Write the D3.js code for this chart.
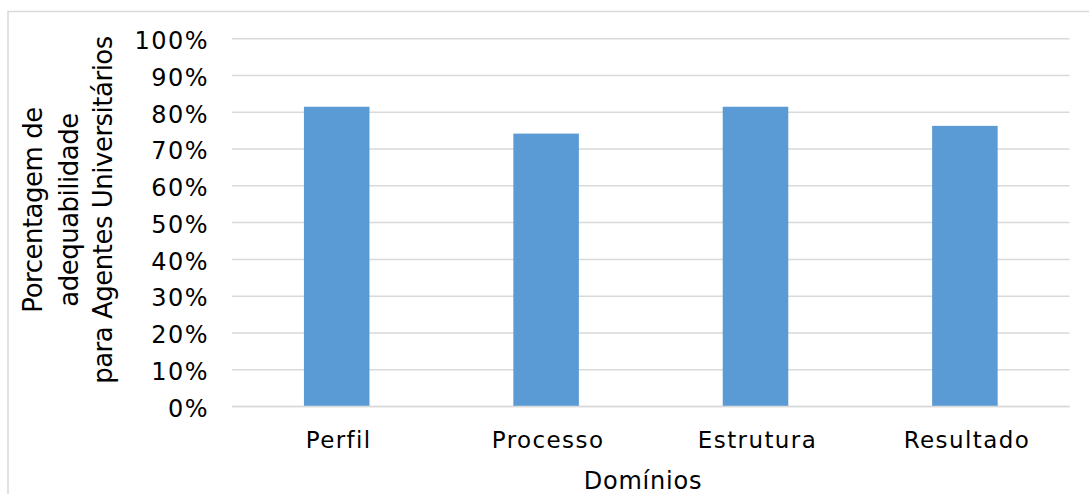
<!DOCTYPE html>
<html>
<head>
<meta charset="utf-8">
<script src="https://cdn.jsdelivr.net/npm/d3@7"></script>
<style>
  html, body { margin: 0; padding: 0; background: #fff; overflow: hidden; }
  svg { display: block; font-family: "DejaVu Sans", Verdana, sans-serif; }
</style>
</head>
<body>
<svg id="chart" width="1089" height="494"></svg>
<script>
// Adequacy percentages by domain
const categories = ["Perfil", "Processo", "Estrutura", "Resultado"];
const values = [0.815, 0.742, 0.815, 0.763];
const yTicks = [0, 0.1, 0.2, 0.3, 0.4, 0.5, 0.6, 0.7, 0.8, 0.9, 1.0];
const yTitleLines = ["Porcentagem de", "adequabilidade", "para Agentes Universitários"];
const xTitle = "Domínios";

const svg = d3.select("#chart");
const W = 1089, H = 494;

// outer chart frame (runs past the right and bottom edges)
svg.append("rect")
  .attr("x", 8).attr("y", 11.5)
  .attr("width", W + 20).attr("height", H + 20)
  .attr("fill", "#fff")
  .attr("stroke", "#d9d9d9").attr("stroke-width", 1.5);

const plot = { left: 232, right: 1069.6, top: 38.7, bottom: 406.5 };

const x = d3.scaleBand()
  .domain(categories)
  .range([plot.left, plot.right])
  .paddingInner(0).paddingOuter(0);

const y = d3.scaleLinear()
  .domain([0, 1])
  .range([plot.bottom, plot.top]);

const barW = x.bandwidth() * 0.313;

// horizontal gridlines
svg.append("g")
  .selectAll("line")
  .data(yTicks)
  .join("line")
  .attr("x1", plot.left).attr("x2", plot.right)
  .attr("y1", d => y(d)).attr("y2", d => y(d))
  .attr("stroke", "#d9d9d9").attr("stroke-width", 1.5);

// bars
svg.append("g")
  .selectAll("rect")
  .data(categories.map((c, i) => ({ c, v: values[i] })))
  .join("rect")
  .attr("x", d => x(d.c) + x.bandwidth() / 2 - barW / 2)
  .attr("width", barW)
  .attr("y", d => y(d.v))
  .attr("height", d => y(0) - y(d.v))
  .attr("fill", "#5b9bd5");

// baseline
svg.append("line")
  .attr("x1", plot.left).attr("x2", plot.right)
  .attr("y1", y(0)).attr("y2", y(0))
  .attr("stroke", "#d9d9d9").attr("stroke-width", 1.5);

// y axis tick labels
const fmt = d3.format(".0%");
svg.append("g")
  .selectAll("text")
  .data(yTicks)
  .join("text")
  .attr("x", 209)
  .attr("y", d => y(d))
  .attr("dy", "0.43em")
  .attr("text-anchor", "end")
  .attr("font-size", 24)
  .attr("letter-spacing", 1.5)
  .attr("fill", "#000")
  .text(d => fmt(d));

// category labels
svg.append("g")
  .selectAll("text")
  .data(categories)
  .join("text")
  .attr("x", d => x(d) + x.bandwidth() / 2 + 2)
  .attr("y", 448)
  .attr("text-anchor", "middle")
  .attr("font-size", 23)
  .attr("letter-spacing", 1.4)
  .attr("fill", "#000")
  .text(d => d);

// x axis title
svg.append("text")
  .attr("x", 643).attr("y", 488.5)
  .attr("text-anchor", "middle")
  .attr("font-size", 24)
  .attr("letter-spacing", 0.8)
  .attr("fill", "#000")
  .text(xTitle);

// y axis title, three rotated lines
const yTitle = svg.append("g")
  .attr("transform", "translate(0,210) rotate(-90)");
const baselines = [42, 78, 112];
yTitle.selectAll("text")
  .data(yTitleLines)
  .join("text")
  .attr("x", 0)
  .attr("y", (d, i) => baselines[i])
  .attr("text-anchor", "middle")
  .attr("font-size", 26)
  .attr("letter-spacing", -0.5)
  .attr("fill", "#000")
  .text(d => d);
</script>
</body>
</html>
